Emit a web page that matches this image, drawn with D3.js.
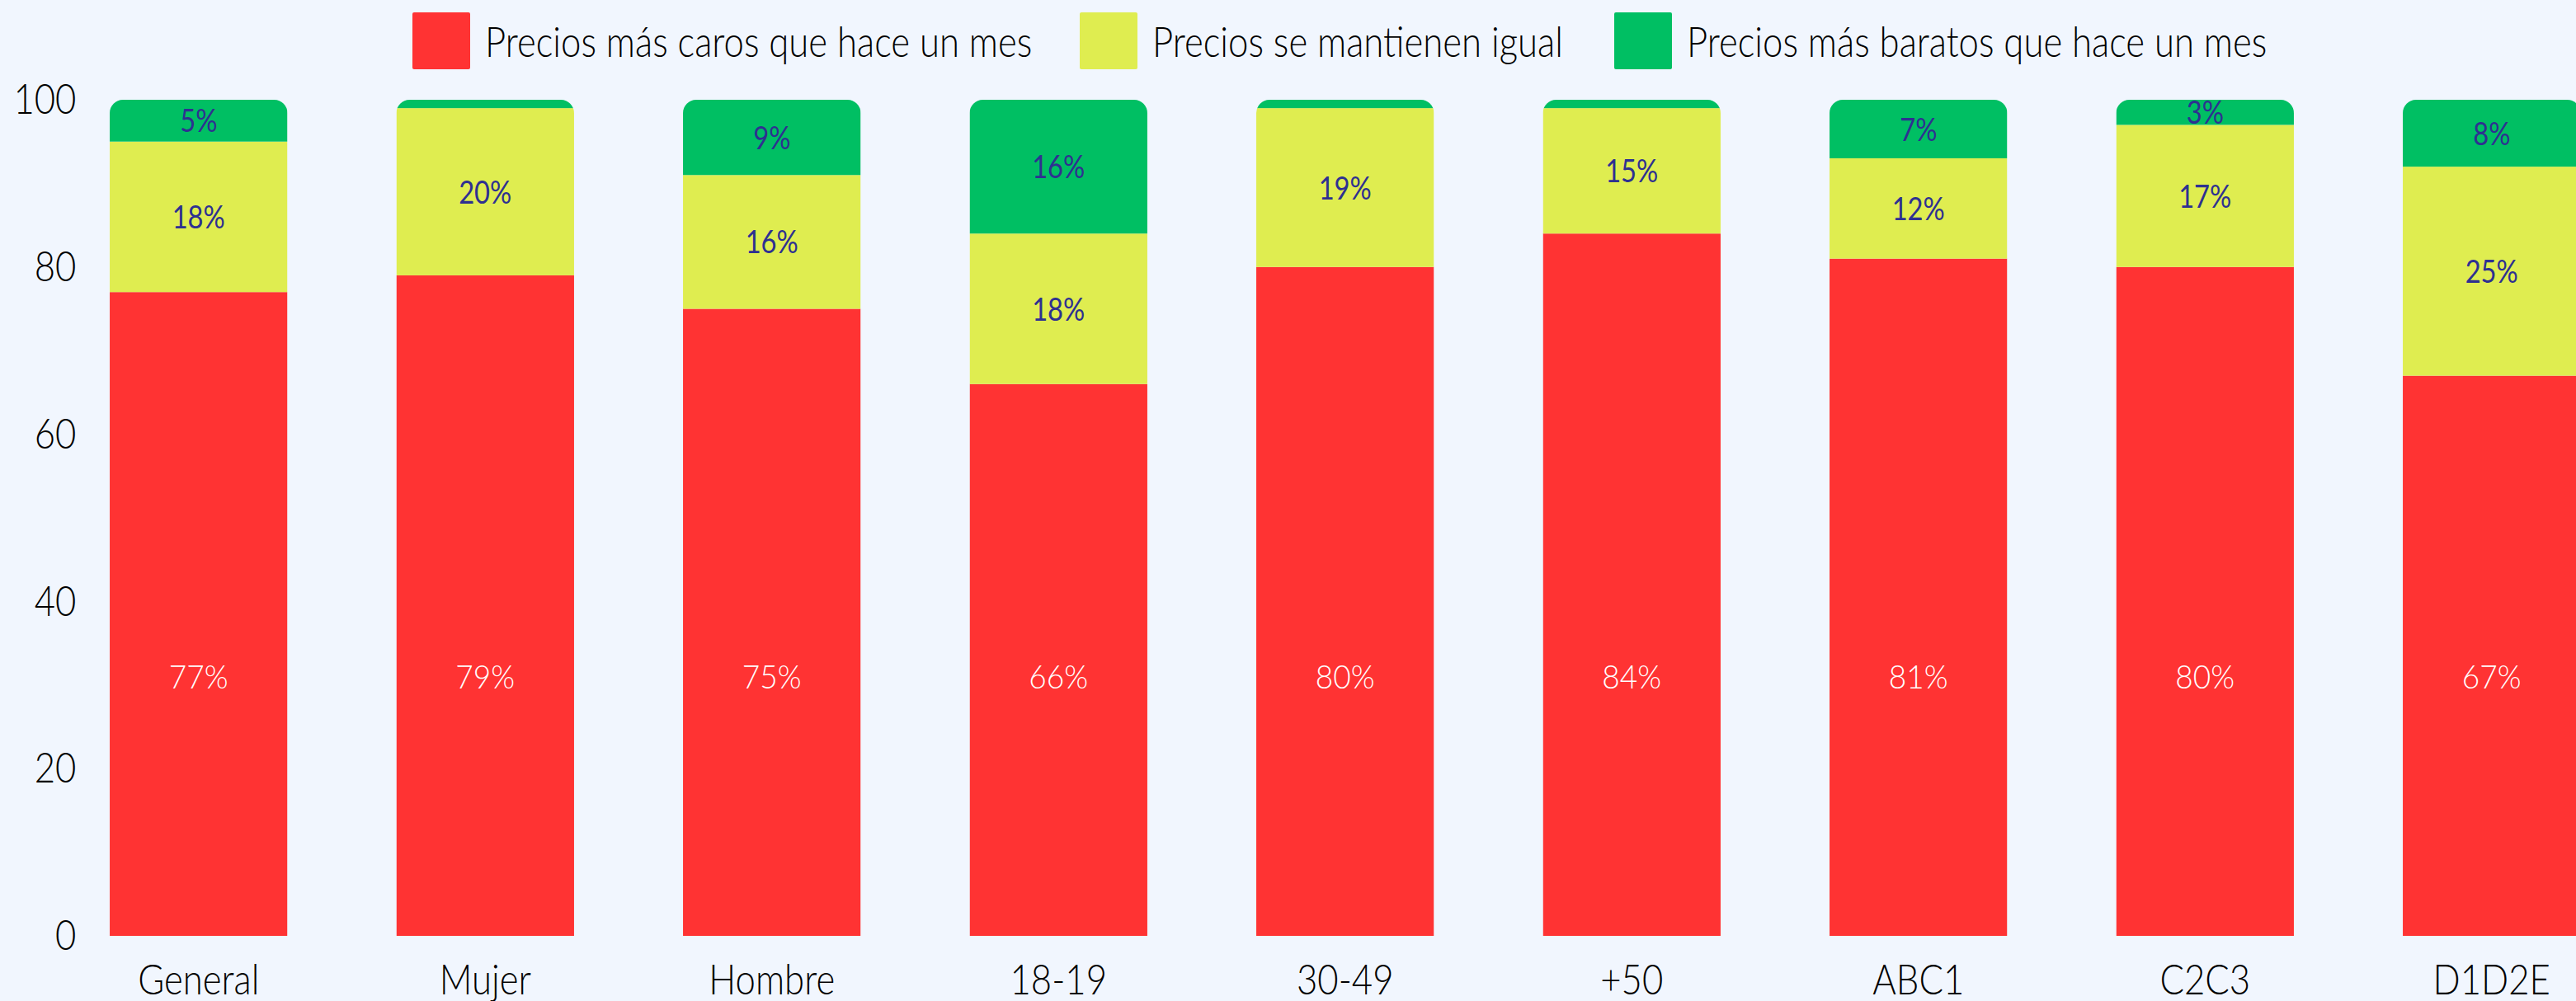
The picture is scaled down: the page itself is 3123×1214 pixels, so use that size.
<!DOCTYPE html>
<html>
<head>
<meta charset="utf-8">
<script src="https://cdn.jsdelivr.net/npm/d3@7"></script>
<style>
  body { margin: 0; background: #f1f6fe; }
  svg { display: block; }
  text { font-family: Lato, "Open Sans", sans-serif; }
</style>
</head>
<body>
<svg id="chart"></svg>
<script>
// datos
const categories = ["General", "Mujer", "Hombre", "18-19", "30-49", "+50", "ABC1", "C2C3", "D1D2E"];
const masCaros = [77, 79, 75, 66, 80, 84, 81, 80, 67];
const seMantienen = [18, 20, 16, 18, 19, 15, 12, 17, 25];
const masBaratos = [5, 1, 9, 16, 1, 1, 7, 3, 8];
const seriesNames = ["Precios más caros que hace un mes", "Precios se mantienen igual", "Precios más baratos que hace un mes"];
const yTicks = [0, 20, 40, 60, 80, 100];

const keys = ["caros", "igual", "baratos"];
const colors = ["#ff3333", "#dfed50", "#00bf63"];
const labelColors = ["#ffffff", "#2e3091", "#2e3091"];

const width = 3123, height = 1214;
const condense = 0.84; // the original font is a narrower face

const rows = categories.map((c, i) => ({
    cat: c, caros: masCaros[i], igual: seMantienen[i], baratos: masBaratos[i]
}));

const svg = d3.select("#chart")
    .attr("width", width)
    .attr("height", height)
    .attr("viewBox", [0, 0, width, height]);

const x = d3.scaleBand()
    .domain(categories)
    .range([67, 67 + 347.5 * categories.length])
    .paddingInner(0.38)
    .paddingOuter(0.19);

const y = d3.scaleLinear()
    .domain([0, 100])
    .range([1135, 121]);

const stack = d3.stack().keys(keys)(rows);

// clip each column with rounded top corners
const r = 16;
const defs = svg.append("defs");
rows.forEach((d, i) => {
    const x0 = x(d.cat), w = x.bandwidth();
    const top = y(d.caros + d.igual + d.baratos), bot = y(0);
    defs.append("clipPath")
        .attr("id", "clip" + i)
        .append("path")
        .attr("d", `M${x0},${bot}V${top + r}A${r},${r} 0 0 1 ${x0 + r},${top}H${x0 + w - r}A${r},${r} 0 0 1 ${x0 + w},${top + r}V${bot}Z`);
});

const cols = svg.append("g")
    .selectAll("g")
    .data(rows)
    .join("g")
    .attr("clip-path", (d, i) => `url(#clip${i})`);

cols.selectAll("rect")
    .data((d, i) => stack.map((s, k) => ({ k, cat: d.cat, y0: s[i][0], y1: s[i][1] })))
    .join("rect")
    .attr("x", d => x(d.cat))
    .attr("y", d => y(d.y1))
    .attr("width", x.bandwidth())
    .attr("height", d => y(d.y0) - y(d.y1))
    .attr("fill", d => colors[d.k]);

// value labels (red ones sit at a fixed height in the original)
const redLabelAt = 31;
svg.append("g")
    .selectAll("text")
    .data(stack.flatMap((s, k) => s.map((v, i) => ({ k, cat: categories[i], y0: v[0], y1: v[1], val: v[1] - v[0] }))))
    .join("text")
    .filter(d => d.val >= 3)
    .attr("transform", d => `translate(${x(d.cat) + x.bandwidth() / 2},${d.k === 0 ? y(redLabelAt) : y((d.y0 + d.y1) / 2)}) scale(${d.k === 0 ? 0.95 : condense},1)`)
    .attr("text-anchor", "middle")
    .attr("dy", "0.36em")
    .attr("font-size", 39)
    .attr("font-weight", d => d.k === 0 ? 300 : 400)
    .attr("fill", d => labelColors[d.k])
    .text(d => d.val + "%");

// y axis
svg.append("g")
    .attr("transform", "translate(100,0)")
    .call(d3.axisLeft(y).tickValues(yTicks).tickSize(0).tickPadding(9))
    .call(g => g.select(".domain").remove())
    .call(g => g.selectAll("text")
        .attr("font-size", 52)
        .attr("font-family", "Lato, 'Open Sans', sans-serif")
        .attr("font-weight", 300)
        .attr("fill", "#000")
        .attr("transform", `scale(${condense},1)`));

// x axis
svg.append("g")
    .attr("transform", `translate(0,${y(0)})`)
    .call(d3.axisBottom(x).tickSize(0).tickPadding(34))
    .call(g => g.select(".domain").remove())
    .call(g => g.selectAll("text")
        .attr("font-size", 52)
        .attr("font-family", "Lato, 'Open Sans', sans-serif")
        .attr("font-weight", 300)
        .attr("fill", "#000")
        .attr("transform", `scale(${condense},1)`));

// legend
const legendX = [500, 1309, 1957];
const legend = svg.append("g")
    .selectAll("g")
    .data(seriesNames)
    .join("g")
    .attr("transform", (d, i) => `translate(${legendX[i]},15)`);

legend.append("rect")
    .attr("width", 70)
    .attr("height", 69)
    .attr("rx", 2)
    .attr("fill", (d, i) => colors[i]);

legend.append("text")
    .attr("transform", `translate(88,35) scale(${condense},1)`)
    .attr("dy", "0.36em")
    .attr("font-size", 52)
    .attr("font-weight", 300)
    .attr("fill", "#000")
    .text(d => d);
</script>
</body>
</html>
